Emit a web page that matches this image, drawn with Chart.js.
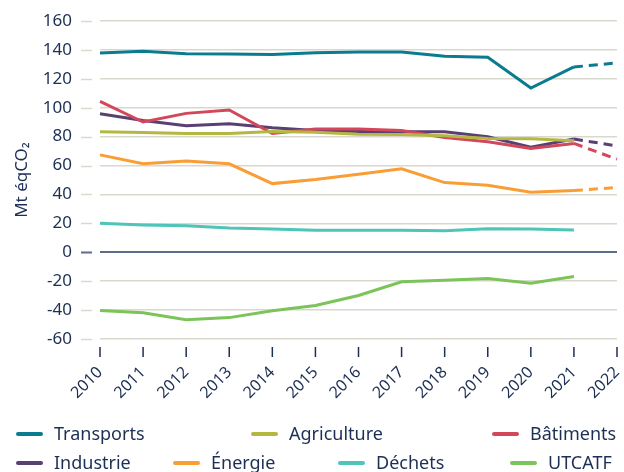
<!DOCTYPE html>
<html>
<head>
<meta charset="utf-8">
<script src="https://cdn.jsdelivr.net/npm/chart.js@4.4.1/dist/chart.umd.min.js"></script>
<style>
  html, body { margin: 0; padding: 0; background: #ffffff; }
  #wrap { position: relative; width: 624px; height: 472px; }
  #c { position: absolute; left: 0; top: 0; }
  .lg { position: absolute; font-family: "Noto Sans", sans-serif; font-size: 18px; color: #1d2f55; white-space: nowrap; line-height: 20px; }
  .lg i { position: absolute; width: 27px; height: 3.5px; border-radius: 2px; top: 9px; left: -38px; }
</style>
</head>
<body>
<div id="wrap">
  <canvas id="c" width="624" height="472"></canvas>
  <div id="legend"></div>
</div>
<script>
const years = ['2010','2011','2012','2013','2014','2015','2016','2017','2018','2019','2020','2021','2022'];
const transports  = [137.9, 139.1, 137.4, 137.2, 136.8, 138.1, 138.6, 138.6, 135.6, 134.9, 113.6, 128.2, 131.0];
const agriculture = [83.4, 82.9, 82.2, 82.2, 83.6, 83.0, 81.7, 81.5, 80.6, 78.7, 78.5, 77.1];
const batiments   = [104.4, 90.1, 96.1, 98.4, 82.2, 85.2, 85.2, 84.3, 79.4, 76.4, 71.8, 75.3, 64.4];
const industrie   = [95.8, 91.2, 87.5, 88.9, 86.1, 84.3, 83.6, 83.4, 83.4, 79.9, 72.7, 78.3, 73.6];
const energie     = [67.4, 61.2, 63.2, 61.2, 47.5, 50.3, 54.0, 57.7, 48.2, 46.4, 41.5, 42.7, 44.8];
const dechets     = [20.0, 18.9, 18.4, 16.8, 16.1, 15.2, 15.2, 15.2, 14.9, 16.3, 16.1, 15.4];
const utcatf      = [-40.3, -41.9, -46.6, -45.2, -40.5, -36.8, -29.9, -20.4, -19.3, -18.1, -21.4, -16.7];

const seriesNames  = ['Transports', 'Agriculture', 'Bâtiments', 'Industrie', 'Énergie', 'Déchets', 'UTCATF'];
const seriesData   = [transports, agriculture, batiments, industrie, energie, dechets, utcatf];
const seriesColors = ['#0b7b8f', '#b4b843', '#d2485a', '#5a3f73', '#f99e36', '#4fc4b8', '#7cc45a'];

const yTicks = { min: -60, max: 160, step: 20 };
const textColor = '#1d2f55';
const gridColor = '#d9d8cc';
const zeroColor = '#5c6d8a';
const font = '"Noto Sans", sans-serif';

// HTML legend (positions are style only)
const legendPos = [
  [54, 423], [289, 423], [530, 423],
  [54, 452], [211, 452], [376, 452], [548, 452]
];
const legend = document.getElementById('legend');
seriesNames.forEach((n, i) => {
  const d = document.createElement('div');
  d.className = 'lg';
  d.style.left = legendPos[i][0] + 'px';
  d.style.top = legendPos[i][1] + 'px';
  const sw = document.createElement('i');
  sw.style.background = seriesColors[i];
  d.appendChild(sw);
  d.appendChild(document.createTextNode(n));
  legend.appendChild(d);
});

const tickMarks = {
  id: 'tickMarks',
  afterDraw(chart) {
    const { ctx, chartArea, scales } = chart;
    const x = scales.x, y = scales.y;
    ctx.save();
    y.ticks.forEach(t => {
      const py = Math.round(y.getPixelForValue(t.value)) + 0.5;
      ctx.strokeStyle = t.value === 0 ? zeroColor : gridColor;
      ctx.lineWidth = t.value === 0 ? 2 : 1.5;
      ctx.beginPath();
      ctx.moveTo(chartArea.left - 19, py);
      ctx.lineTo(chartArea.left - 8, py);
      ctx.stroke();
    });
    ctx.strokeStyle = textColor;
    ctx.lineWidth = 1.5;
    years.forEach((_, i) => {
      const px = x.getPixelForValue(i);
      ctx.beginPath();
      ctx.moveTo(px, chartArea.bottom + 8);
      ctx.lineTo(px, chartArea.bottom + 18);
      ctx.stroke();
    });
    ctx.restore();
  }
};

const dashLast = (ctx) => ctx.p1DataIndex === years.length - 1 ? [9, 6] : undefined;

new Chart(document.getElementById('c'), {
  type: 'line',
  data: {
    labels: years,
    datasets: seriesNames.map((n, i) => ({
      label: n,
      data: seriesData[i],
      borderColor: seriesColors[i],
      backgroundColor: seriesColors[i],
      borderWidth: 3,
      pointRadius: 0,
      fill: false,
      tension: 0,
      segment: { borderDash: dashLast }
    }))
  },
  options: {
    responsive: false,
    animation: false,
    layout: { padding: { top: 21, right: 7, left: 0, bottom: 0 } },
    plugins: { legend: { display: false }, tooltip: { enabled: false } },
    scales: {
      x: {
        type: 'category',
        offset: false,
        grid: { display: true, drawOnChartArea: false, drawTicks: false },
        border: { display: false },
        ticks: {
          color: textColor,
          font: { family: font, size: 16 },
          minRotation: 45, maxRotation: 45,
          padding: 24,
          autoSkip: false
        },
        afterFit(scale) { scale.height = 133; scale.paddingLeft = 0; scale.paddingRight = 0; }
      },
      y: {
        min: yTicks.min, max: yTicks.max,
        border: { display: false },
        grid: {
          drawTicks: false,
          color: (c) => c.tick && c.tick.value === 0 ? zeroColor : gridColor,
          lineWidth: (c) => c.tick && c.tick.value === 0 ? 2 : 1.5
        },
        ticks: {
          stepSize: yTicks.step,
          color: textColor,
          font: { family: font, size: 17 },
          padding: 28
        },
        title: {
          display: true,
          text: 'Mt éqCO₂',
          color: textColor,
          font: { family: font, size: 17 },
          padding: { top: 12, bottom: 0 }
        },
        afterFit(scale) { scale.width = 100; scale.paddingTop = 0; scale.paddingBottom = 0; }
      }
    }
  },
  plugins: [tickMarks]
});
</script>
</body>
</html>
